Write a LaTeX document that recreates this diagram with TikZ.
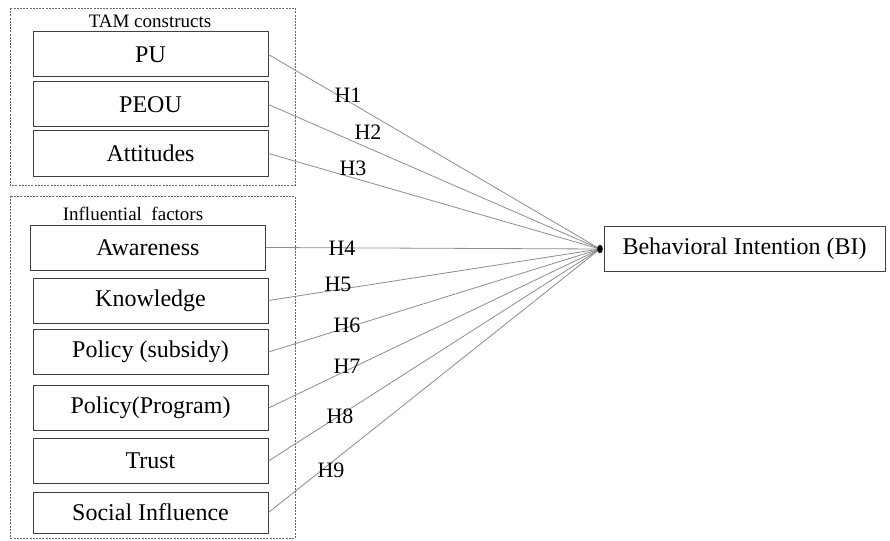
\documentclass[tikz,border=0pt]{standalone}
\usepackage{fontspec}
\setmainfont{Liberation Serif}
\begin{document}
\begin{tikzpicture}[x=1pt,y=-1pt,
  fbox/.style={draw=black!75,line width=1pt,minimum width=235pt,minimum height=45pt,inner sep=0pt,font=\fontsize{24}{27}\selectfont},
  grp/.style={draw=black!60,line width=0.9pt,dash pattern=on 2pt off 1.2pt},
  gtitle/.style={font=\fontsize{19}{22}\selectfont,inner sep=0pt},
  hyp/.style={font=\fontsize{22}{25}\selectfont,inner sep=0pt},
  link/.style={draw=black!45,line width=0.8pt}]
\useasboundingbox (0,0) rectangle (890,540);
% group frames
\draw[grp] (10,8) rectangle (295,185);
\draw[grp] (10,196) rectangle (295,538);
\node[gtitle] (t1) at (150,21) {TAM constructs};
\node[gtitle] (t2) at (133,214) {Influential\ \ factors};
% boxes
\node[fbox] (pu) at (150.5,54.5) {PU};
\node[fbox] (peou) at (150.5,104.5) {PEOU};
\node[fbox] (att) at (150.5,153.5) {Attitudes};
\node[fbox] (awa) at (148,247.5) {Awareness};
\node[fbox] (kno) at (150.5,300.5) {Knowledge};
\node[fbox] (sub) at (150.5,352) {Policy (subsidy)};
\node[fbox] (pro) at (150.5,408) {Policy(Program)};
\node[fbox] (tru) at (150.5,461) {Trust};
\node[fbox,minimum height=41pt] (soc) at (150.5,512.5) {Social Influence};
\node[fbox,minimum width=281pt] (bi) at (744.5,248.5) {Behavioral Intention (BI)};
\coordinate (c) at (600,249);
% links
\foreach \n in {pu,peou,att,awa,kno,sub,pro,tru,soc}
  \draw[link] (\n.east) -- (c);
\fill[black] (c) ellipse [x radius=2.8, y radius=4.2];
% labels
\node[hyp] (h1) at (348,95) {H1};
\node[hyp] (h2) at (368,132) {H2};
\node[hyp] (h3) at (353,168) {H3};
\node[hyp] (h4) at (342,248) {H4};
\node[hyp] (h5) at (338,284) {H5};
\node[hyp] (h6) at (347,325) {H6};
\node[hyp] (h7) at (347,366) {H7};
\node[hyp] (h8) at (340,416) {H8};
\node[hyp] (h9) at (331,470) {H9};
\end{tikzpicture}
\end{document}
